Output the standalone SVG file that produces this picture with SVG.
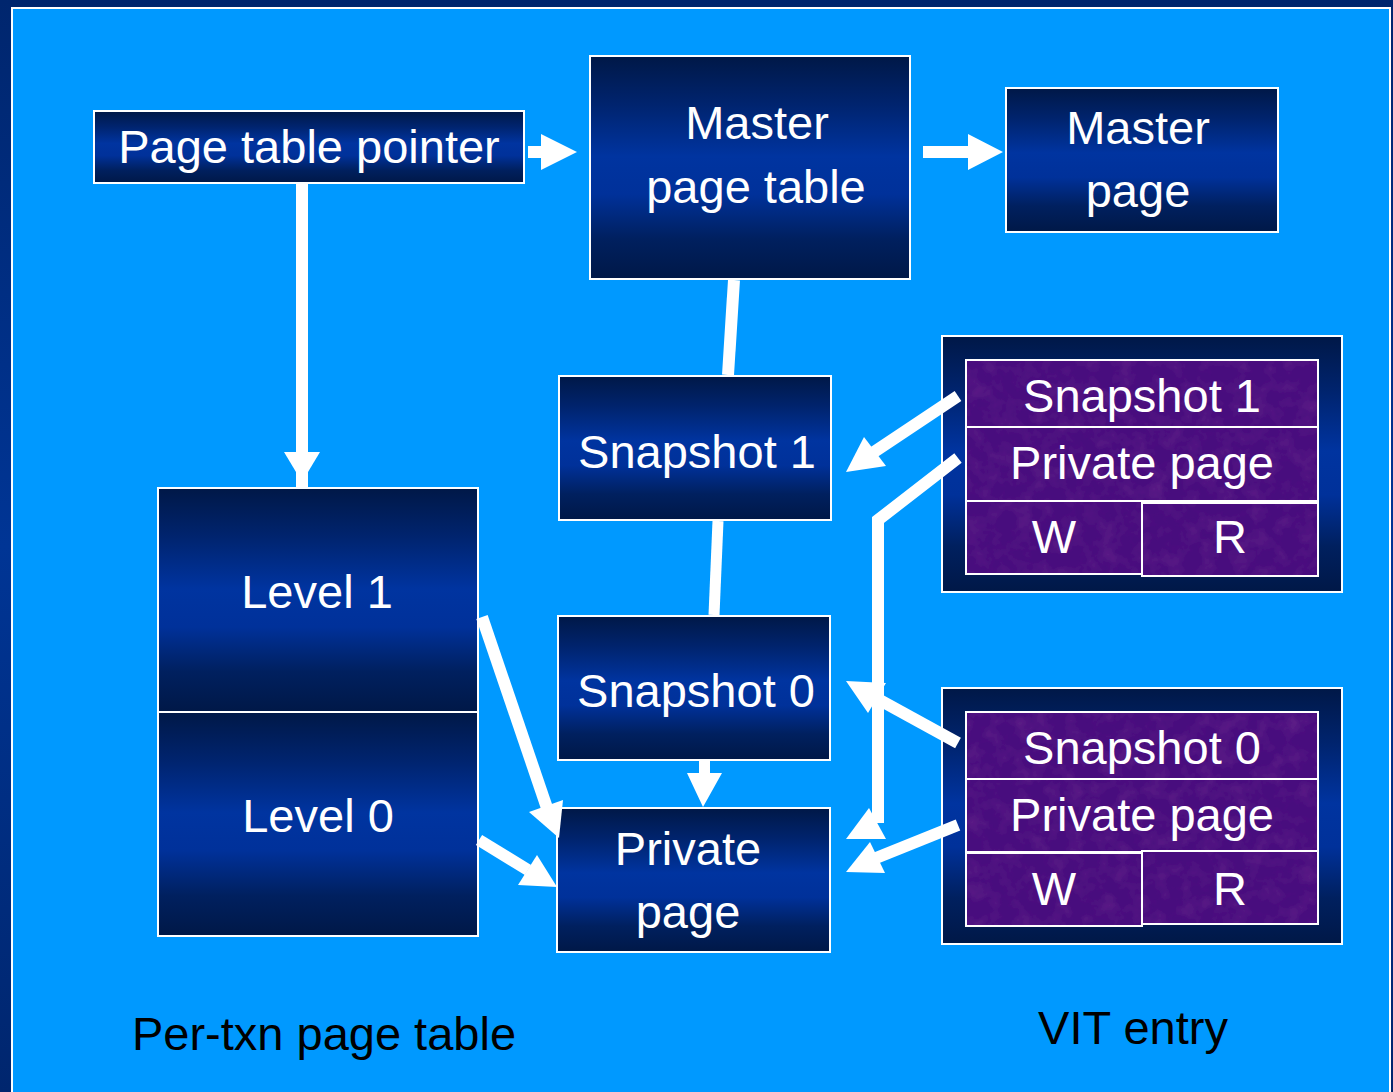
<svg xmlns="http://www.w3.org/2000/svg" width="1393" height="1092" viewBox="0 0 1393 1092">
  <defs>
    <linearGradient id="frameGrad" x1="0" y1="0" x2="0" y2="1">
      <stop offset="0" stop-color="#00266e"/>
      <stop offset="0.5" stop-color="#003595"/>
      <stop offset="1" stop-color="#00266e"/>
    </linearGradient>
    <linearGradient id="nodeGrad" x1="0" y1="0" x2="0" y2="1">
      <stop offset="0" stop-color="#001847"/>
      <stop offset="0.22" stop-color="#00246f"/>
      <stop offset="0.45" stop-color="#0034a0"/>
      <stop offset="0.62" stop-color="#00319a"/>
      <stop offset="0.82" stop-color="#00205f"/>
      <stop offset="1" stop-color="#001847"/>
    </linearGradient>
    <filter id="grain" x="0" y="0" width="100%" height="100%">
      <feTurbulence type="fractalNoise" baseFrequency="0.06" numOctaves="3" seed="7"/>
      <feColorMatrix type="matrix" values="0 0 0 0 0.14  0 0 0 0 0.02  0 0 0 0 0.26  1.1 0 0 0 -0.45"/>
      <feComposite in2="SourceGraphic" operator="in"/>
    </filter>
    <style>
      .box { fill: url(#nodeGrad); stroke: #ffffff; stroke-width: 2; }
      .cell { fill: #480d7e; stroke: #ffffff; stroke-width: 2; }
      .grain { fill: #ffffff; filter: url(#grain); }
      .lbl { font-family: "Liberation Sans", Arial, sans-serif; font-size: 47px; fill: #ffffff; text-anchor: middle; }
      .cap { font-family: "Liberation Sans", Arial, sans-serif; font-size: 47px; fill: #000000; text-anchor: middle; }
      .conn line, .conn polyline { stroke: #ffffff; stroke-width: 12; fill: none; }
      .conn polygon { fill: #ffffff; }
    </style>
  </defs>

  <!-- background frame -->
  <rect x="0" y="0" width="1393" height="1092" fill="url(#frameGrad)"/>
  <rect x="12" y="8" width="1378" height="1092" fill="#0099ff" stroke="#ffffff" stroke-width="2"/>

  <!-- nodes -->
  <g id="page-table-pointer">
    <rect class="box" x="94" y="111" width="430" height="72"/>
    <text class="lbl" x="309" y="163">Page table pointer</text>
  </g>

  <g id="master-page-table">
    <rect class="box" x="590" y="56" width="320" height="223"/>
    <text class="lbl" x="757" y="139">Master</text>
    <text class="lbl" x="756" y="203">page table</text>
  </g>

  <g id="master-page">
    <rect class="box" x="1006" y="88" width="272" height="144"/>
    <text class="lbl" x="1138" y="144">Master</text>
    <text class="lbl" x="1138" y="207">page</text>
  </g>

  <g id="snapshot-1">
    <rect class="box" x="559" y="376" width="272" height="144"/>
    <text class="lbl" x="697" y="468">Snapshot 1</text>
  </g>

  <g id="snapshot-0">
    <rect class="box" x="558" y="616" width="272" height="144"/>
    <text class="lbl" x="696" y="707">Snapshot 0</text>
  </g>

  <g id="private-page">
    <rect class="box" x="557" y="808" width="273" height="144"/>
    <text class="lbl" x="688" y="865">Private</text>
    <text class="lbl" x="688" y="928">page</text>
  </g>

  <g id="level-1">
    <rect class="box" x="158" y="488" width="320" height="224"/>
    <text class="lbl" x="317" y="608">Level 1</text>
  </g>

  <g id="level-0">
    <rect class="box" x="158" y="712" width="320" height="224"/>
    <text class="lbl" x="318" y="832">Level 0</text>
  </g>

  <g id="vit-entry-1">
    <rect class="box" x="942" y="336" width="400" height="256"/>
    <rect class="cell" x="966" y="360" width="352" height="67"/>
    <rect class="grain" x="967" y="361" width="350" height="65"/>
    <rect class="cell" x="966" y="427" width="352" height="74"/>
    <rect class="grain" x="967" y="428" width="350" height="72"/>
    <rect class="cell" x="966" y="501" width="176" height="73"/>
    <rect class="grain" x="967" y="502" width="174" height="71"/>
    <rect class="cell" x="1142" y="503" width="176" height="73"/>
    <rect class="grain" x="1143" y="504" width="174" height="71"/>
    <text class="lbl" x="1142" y="412">Snapshot 1</text>
    <text class="lbl" x="1142" y="479">Private page</text>
    <text class="lbl" x="1054" y="553">W</text>
    <text class="lbl" x="1230" y="553">R</text>
  </g>

  <g id="vit-entry-0">
    <rect class="box" x="942" y="688" width="400" height="256"/>
    <rect class="cell" x="966" y="712" width="352" height="67"/>
    <rect class="grain" x="967" y="713" width="350" height="65"/>
    <rect class="cell" x="966" y="779" width="352" height="73"/>
    <rect class="grain" x="967" y="780" width="350" height="71"/>
    <rect class="cell" x="966" y="853" width="176" height="73"/>
    <rect class="grain" x="967" y="854" width="174" height="71"/>
    <rect class="cell" x="1142" y="851" width="176" height="73"/>
    <rect class="grain" x="1143" y="852" width="174" height="71"/>
    <text class="lbl" x="1142" y="764">Snapshot 0</text>
    <text class="lbl" x="1142" y="831">Private page</text>
    <text class="lbl" x="1054" y="905">W</text>
    <text class="lbl" x="1230" y="905">R</text>
  </g>

  <!-- connectors -->
  <g id="connectors" class="conn">
    <!-- Page table pointer -> Master page table -->
    <polygon points="528,146 541,146 541,134 577,152 541,170 541,158 528,158"/>
    <!-- Master page table -> Master page -->
    <polygon points="923,146 968,146 968,134 1003,152 968,170 968,158 923,158"/>
    <!-- Page table pointer -> Level 1 -->
    <line x1="302" y1="184" x2="302" y2="487"/>
    <polygon points="284,452 320,452 302,482"/>
    <!-- Master page table - Snapshot 1 -->
    <line x1="734" y1="280" x2="728" y2="375"/>
    <!-- Snapshot 1 - Snapshot 0 -->
    <line x1="718" y1="521" x2="714" y2="615" style="stroke-width:11"/>
    <!-- Snapshot 0 -> Private page -->
    <polygon points="699,761 710,761 710,773 722,773 703,807 687,773 699,773"/>
    <!-- Level 1 -> Private page -->
    <line x1="482" y1="617" x2="547" y2="808"/>
    <polygon points="529,812 563,800 559,838"/>
    <!-- Level 0 -> Private page -->
    <line x1="479" y1="840" x2="528" y2="870"/>
    <polygon points="518,885 537,855 557,887"/>
    <!-- VIT1 Snapshot 1 -> Snapshot 1 -->
    <line x1="958" y1="396" x2="874" y2="452"/>
    <polygon points="864,437 886,466 846,472"/>
    <!-- VIT1 Private page -> bent line -->
    <polyline points="958,458 878,520 878,823"/>
    <polygon points="846,839 886,839 869,808"/>
    <!-- VIT2 Snapshot 0 -> Snapshot 0 -->
    <line x1="958" y1="743" x2="876" y2="698"/>
    <polygon points="868,713 886,683 846,681"/>
    <!-- VIT2 Private page -> Private page -->
    <line x1="958" y1="825" x2="876" y2="858"/>
    <polygon points="870,842 885,873 846,872"/>
  </g>

  <!-- captions -->
  <text class="cap" x="324" y="1050">Per-txn page table</text>
  <text class="cap" x="1133" y="1044">VIT entry</text>
</svg>
